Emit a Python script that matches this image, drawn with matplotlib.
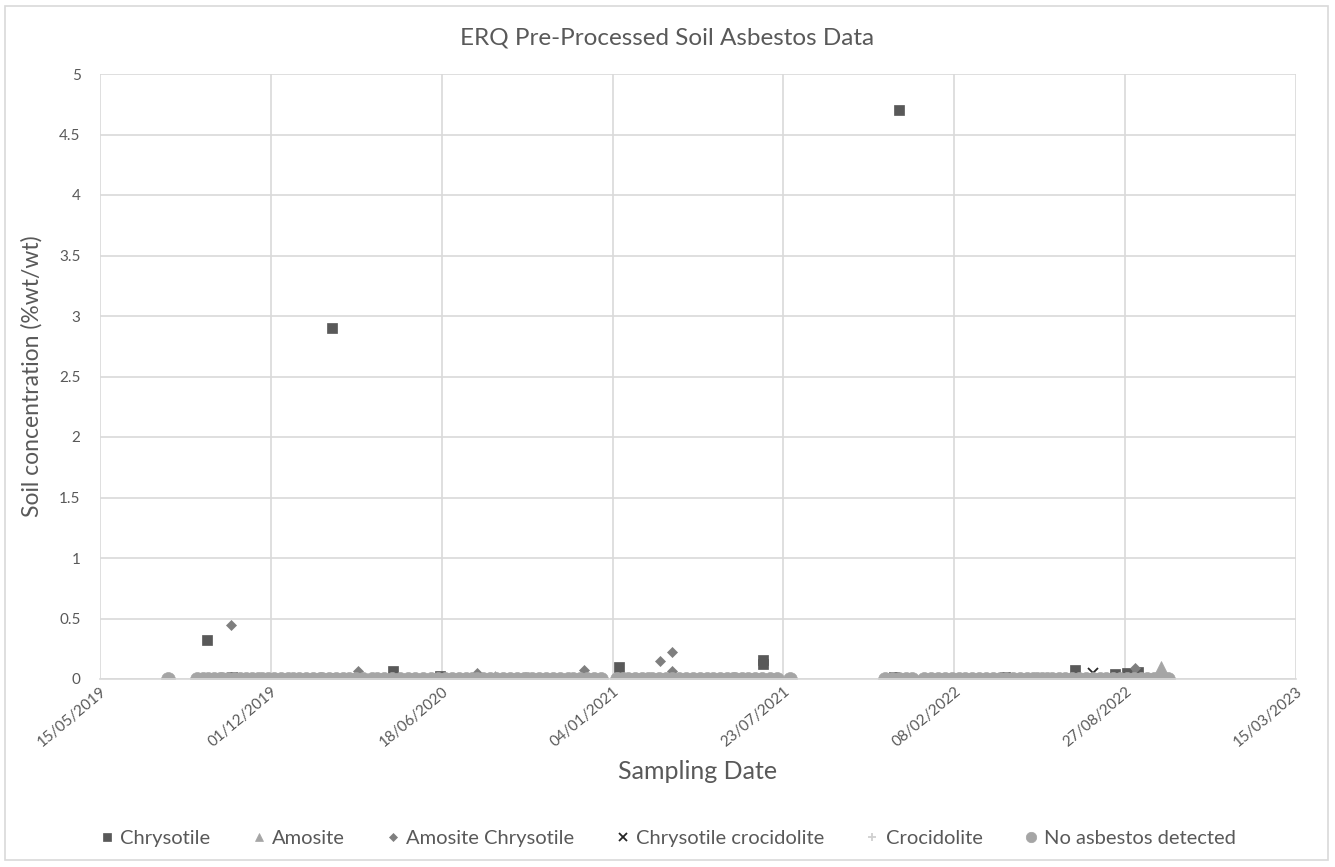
import numpy as np
import pandas as pd
import matplotlib
matplotlib.use('Agg')
import matplotlib.pyplot as plt
import matplotlib.dates as mdates
from matplotlib.patches import Rectangle

plt.rcParams['font.family'] = ['Lato', 'DejaVu Sans']

# ---- data ----
chrysotile_dates = ['2019-09-17', '2019-10-16', '2020-02-10', '2020-02-10', '2020-04-22',
                    '2020-06-16', '2021-01-12', '2021-06-29', '2021-06-29', '2021-12-05',
                    '2021-11-30', '2022-06-29', '2022-08-15', '2022-08-29', '2022-09-11',
                    '2019-09-09', '2020-01-16', '2020-04-12', '2021-02-22', '2021-04-04',
                    '2022-04-08', '2022-05-19', '2022-10-12']
chrysotile_vals = [0.32, 0.02, 2.9, 0.01, 0.065,
                   0.025, 0.1, 0.16, 0.12, 4.7,
                   0.02, 0.075, 0.045, 0.05, 0.055,
                   0.0, 0.0, 0.0, 0.0, 0.0,
                   0.02, 0.0, 0.0]

amosite_dates = ['2020-08-19', '2022-10-08']
amosite_vals = [0.02, 0.1]

amo_chry_dates = ['2019-10-15', '2020-03-12', '2020-07-29', '2020-12-01',
                  '2021-02-28', '2021-03-14', '2021-03-15', '2022-09-07']
amo_chry_vals = [0.45, 0.07, 0.05, 0.075, 0.15, 0.22, 0.07, 0.09]

chry_croc_dates = ['2022-07-20', '2020-06-20']
chry_croc_vals = [0.05, 0.0]

croc_dates = ['2022-05-01']
croc_vals = [0.0]

none_dates = ['2019-08-03', '2019-09-06', '2019-09-12', '2019-09-19', '2019-09-26',
              '2019-10-02', '2019-10-05', '2019-10-12', '2019-10-19', '2019-10-26',
              '2019-11-02', '2019-11-09', '2019-11-16', '2019-11-21', '2019-11-28',
              '2019-12-05', '2019-12-13', '2019-12-21', '2019-12-27', '2020-01-03',
              '2020-01-11', '2020-01-19', '2020-01-27', '2020-01-30', '2020-02-07',
              '2020-02-15', '2020-02-23', '2020-03-02', '2020-03-10', '2020-03-18',
              '2020-03-28', '2020-04-03', '2020-04-12', '2020-04-21', '2020-04-30',
              '2020-05-09', '2020-05-18', '2020-05-27', '2020-06-05', '2020-06-14',
              '2020-06-22', '2020-06-30', '2020-07-08', '2020-07-16', '2020-07-24',
              '2020-07-29', '2020-08-05', '2020-08-13', '2020-08-21', '2020-08-29',
              '2020-09-06', '2020-09-14', '2020-09-22', '2020-09-26', '2020-10-02',
              '2020-10-10', '2020-10-18', '2020-10-26', '2020-11-04', '2020-11-13',
              '2020-11-19', '2020-11-27', '2020-12-05', '2020-12-13', '2020-12-22',
              '2021-01-09', '2021-01-16', '2021-01-22', '2021-01-30', '2021-02-07',
              '2021-02-14', '2021-02-19', '2021-02-27', '2021-03-07', '2021-03-15',
              '2021-03-23', '2021-03-31', '2021-04-08', '2021-04-16', '2021-04-24',
              '2021-05-02', '2021-05-10', '2021-05-18', '2021-05-25', '2021-05-27',
              '2021-06-04', '2021-06-12', '2021-06-20', '2021-06-28', '2021-07-07',
              '2021-07-15', '2021-07-31', '2021-11-19', '2021-11-27', '2021-12-05',
              '2021-12-13', '2021-12-20', '2022-01-04', '2022-01-12', '2022-01-20',
              '2022-01-28', '2022-02-05', '2022-02-13', '2022-02-21', '2022-03-01',
              '2022-03-09', '2022-03-17', '2022-03-25', '2022-04-02', '2022-04-10',
              '2022-04-18', '2022-04-26', '2022-05-04', '2022-05-11', '2022-05-16',
              '2022-05-22', '2022-05-28', '2022-06-02', '2022-06-10', '2022-06-18',
              '2022-06-26', '2022-07-04', '2022-07-12', '2022-07-20', '2022-07-28',
              '2022-08-05', '2022-08-13', '2022-08-21', '2022-08-29', '2022-09-06',
              '2022-09-14', '2022-09-22', '2022-09-30', '2022-10-08', '2022-10-16']
none_vals = [0.0] * len(none_dates)

x_ticks = ['2019-05-15', '2019-12-01', '2020-06-18', '2021-01-04',
           '2021-07-23', '2022-02-08', '2022-08-27', '2023-03-15']

txt = '#595959'
grid = '#D9D9D9'

fig = plt.figure(figsize=(13.35, 8.67), dpi=100)
fig.patches.append(Rectangle((5/1335, 7/867), 1323/1335, 854/867, transform=fig.transFigure,
                             fill=False, edgecolor='#D9D9D9', lw=1.2))
ax = fig.add_axes([100/1335, 1-679/867, 1196/1335, 605/867])

series = [
    (chrysotile_dates, chrysotile_vals, 's', '#595959', 7, 'Chrysotile'),
    (amosite_dates, amosite_vals, '^', '#A5A5A5', 8, 'Amosite'),
    (amo_chry_dates, amo_chry_vals, 'D', '#7F7F7F', 5.5, 'Amosite Chrysotile'),
    (chry_croc_dates, chry_croc_vals, 'x', '#262626', 7, 'Chrysotile crocidolite'),
    (croc_dates, croc_vals, '+', '#D0D0D0', 7, 'Crocidolite'),
    (none_dates, none_vals, 'o', '#A5A5A5', 10, 'No asbestos detected'),
]
for d, v, m, c, s, lab in series:
    ax.plot(pd.to_datetime(d), v, linestyle='none', marker=m, color=c,
            markersize=s, markeredgewidth=1.3 if m in 'x+' else 0.5, label=lab)

ax.set_xlim(pd.Timestamp(x_ticks[0]), pd.Timestamp(x_ticks[-1]))
ax.set_ylim(0, 5)
ax.set_xticks(pd.to_datetime(x_ticks))
ax.xaxis.set_major_formatter(mdates.DateFormatter('%d/%m/%Y'))
ax.set_yticks(np.arange(0, 5.01, 0.5))
ax.set_yticklabels(['0', '0.5', '1', '1.5', '2', '2.5', '3', '3.5', '4', '4.5', '5'])
ax.grid(True, color=grid, lw=1.2)
ax.set_axisbelow(True)
for s in ['top', 'right', 'left']:
    ax.spines[s].set_visible(False)
ax.spines['bottom'].set_color(grid)
ax.spines['bottom'].set_linewidth(1.2)
ax.tick_params(length=0, colors=txt, labelsize=11)
ax.tick_params(axis='y', pad=14)
plt.setp(ax.get_xticklabels(), rotation=40, ha='right', rotation_mode='anchor')

ax.set_ylabel('Soil concentration (%wt/wt)', fontsize=16.5, color=txt, labelpad=12)
ax.set_xlabel('Sampling Date', fontsize=18, color=txt, labelpad=8)
fig.text(0.5, 1-38/867, 'ERQ Pre-Processed Soil Asbestos Data', ha='center', va='center',
         fontsize=17.5, color=txt)

ax.legend(loc='center', bbox_to_anchor=(0.5, 1-838/867), bbox_transform=fig.transFigure,
          ncol=6, frameon=False, fontsize=14.5, labelcolor=txt, handletextpad=0.25,
          handlelength=0.8, columnspacing=2.0, markerscale=0.75)

fig.savefig('out.png', dpi=100)
